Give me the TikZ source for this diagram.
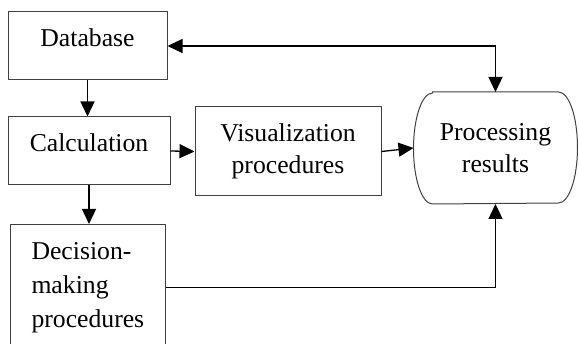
\documentclass[tikz,border=0pt]{standalone}
\usepackage{fontspec}
\setmainfont{Liberation Serif}
\usetikzlibrary{arrows.meta}

\begin{document}
\begin{tikzpicture}[x=1pt,y=1pt,
  >={Triangle[length=15pt,width=14pt]},
  box/.style={draw=black!75, line width=1pt, inner sep=0pt, font=\fontsize{25.7}{32}\selectfont},
  onebox/.style={box, text height=35pt, text depth=33pt},
  link/.style={line width=1.3pt, black}]
\useasboundingbox (0,0) rectangle (579,-344);
\node[onebox, minimum width=159pt] (db) at (87.5,-46) {Database};
\node[onebox, minimum width=162pt] (calc) at (89,-151) {Calculation};
\node[box, align=center, minimum width=186pt, minimum height=89pt] (vis) at (288,-151.5) {Visualization\\procedures};
\node[box, draw=none, align=center, minimum width=163pt, minimum height=111pt] (proc) at (495.5,-148) {Processing\\results};
\node[box, anchor=north west, text width=113pt, align=left, inner xsep=21pt, inner ysep=17.5pt,
  font=\fontsize{25.7}{34}\selectfont] (dec) at (10,-224) {Decision-\\making\\procedures};
% outline of the results node, bulging sides
\draw[draw=black!75, line width=1pt] ([xshift=19pt]proc.north west) -- ([xshift=-19pt]proc.north east)
  arc[start angle=90, end angle=-90, x radius=19pt, y radius=55.5pt]
  -- ([xshift=19pt]proc.south west)
  arc[start angle=-90, end angle=-270, x radius=19pt, y radius=55.5pt] -- cycle;
\draw[link,->] (db.south) -- (db.south |- calc.north);
\draw[link,->] (calc.south) -- (calc.south |- dec.north);
\draw[link,->] (calc.east) -- (vis.west);
\draw[link,->] (vis.east) -- (proc.west);
\draw[link,<->] (db.east) -| (proc.north);
\draw[link,->] (dec.east) -| (proc.south);
\end{tikzpicture}
\end{document}
